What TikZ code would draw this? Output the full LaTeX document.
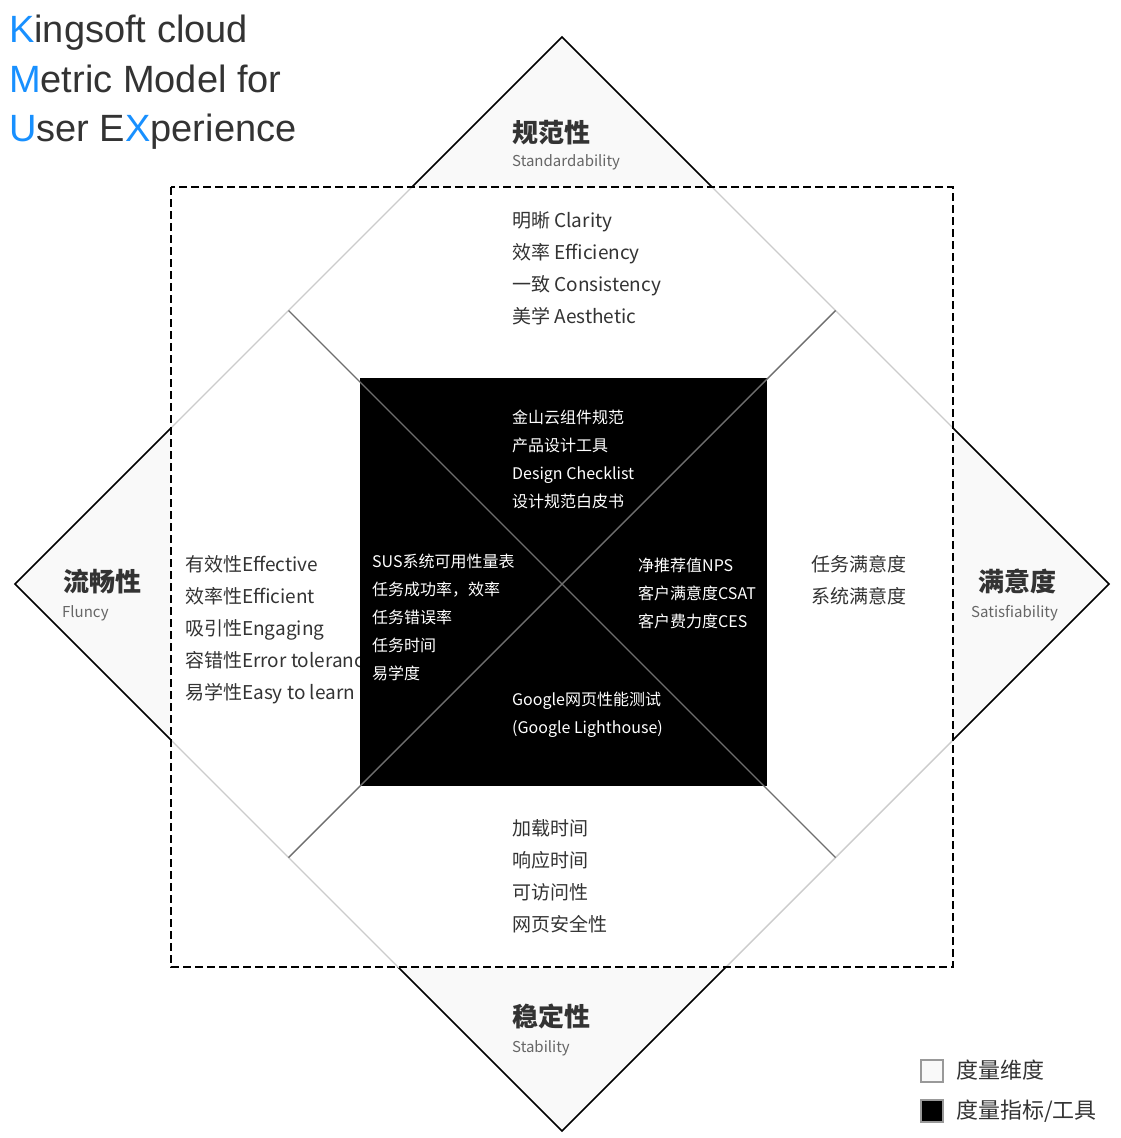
\documentclass[tikz,border=0pt]{standalone}
\usepackage{fontspec}
\setmainfont{Noto Sans CJK SC}
\newfontfamily\titlefont{Liberation Sans}

\definecolor{inkgray}{HTML}{333333}
\definecolor{subgray}{HTML}{666666}
\definecolor{kblue}{HTML}{1890FF}
\definecolor{dimfill}{HTML}{F9F9F9}
\definecolor{edgegray}{HTML}{CCCCCC}
\definecolor{crossgray}{HTML}{6E6E6E}
\definecolor{boxgray}{HTML}{999999}

\tikzset{
  item/.style={anchor=west, inner sep=0pt, text height=13.7pt, text depth=0pt, text=inkgray, font=\fontsize{19}{23}\selectfont},
  tool/.style={item, text=white, text height=11.5pt, font=\fontsize{16}{20}\selectfont},
  dimhead/.style={item, text height=18.7pt, font=\fontsize{26}{30}\selectfont\bfseries},
  dimsub/.style={item, text=subgray, text height=10.8pt, font=\fontsize{15}{18}\selectfont},
  legend/.style={item, text height=15.8pt, font=\fontsize{22}{26}\selectfont},
  heading/.style={anchor=base west, inner sep=0pt, text=inkgray, font=\titlefont\fontsize{38}{44}\selectfont},
}

\begin{document}
\begin{tikzpicture}[x=1pt, y=-1pt]
    \useasboundingbox (0,0) rectangle (1120,1138);
    \coordinate (T) at (562,37);
    \coordinate (R) at (1109,584);
    \coordinate (B) at (562,1131);
    \coordinate (L) at (15,584);
    \coordinate (TL) at (288.5,310.5);
    \coordinate (TR) at (835.5,310.5);
    \coordinate (BL) at (288.5,857.5);
    \coordinate (BR) at (835.5,857.5);

    % outer diamond, white inside the dashed frame
    \filldraw[fill=dimfill, line width=1.6pt, line join=miter] (T) -- (R) -- (B) -- (L) -- cycle;
    \fill[white] (171,187) rectangle (953,967);
    \begin{scope}
        \clip (171,187) rectangle (953,967);
        \draw[edgegray, line width=1.4pt] (T) -- (R) -- (B) -- (L) -- cycle;
    \end{scope}
    \draw[line width=1.6pt, dash pattern=on 8pt off 4pt] (171,187) rectangle (953,967);

    \node[heading] (k1) at (9,42) {\textcolor{kblue}{K}ingsoft cloud};
    \node[heading] (k2) at (9,92) {\textcolor{kblue}{M}etric Model for};
    \node[heading] (k3) at (9,141) {\textcolor{kblue}{U}ser E\textcolor{kblue}{X}perience};

    \node[dimhead] (std) at (512,133) {规范性};
    \node[dimsub] (std-en) at (512,161) {Standardability};
    \node[dimhead] (flu) at (63,582) {流畅性};
    \node[dimsub] (flu-en) at (62,612) {Fluncy};
    \node[dimhead] (sat) at (978,582) {满意度};
    \node[dimsub] (sat-en) at (971,612) {Satisfiability};
    \node[dimhead] (sta) at (512,1017) {稳定性};
    \node[dimsub] (sta-en) at (512,1047) {Stability};

    \foreach \y/\label in {221/明晰 Clarity,253/效率 Efficiency,285/一致 Consistency,317/美学 Aesthetic}
    {
        \node[item] (std-\y) at (512,\y) {\label};
    }
    \foreach \y/\label in {565/有效性Effective,597/效率性Efficient,629/吸引性Engaging,661/容错性Error tolerance,693/易学性Easy to learn}
    {
        \node[item] (flu-\y) at (185,\y) {\label};
    }
    \foreach \y/\label in {565/任务满意度,597/系统满意度}
    {
        \node[item] (sat-\y) at (811,\y) {\label};
    }
    \foreach \y/\label in {829/加载时间,861/响应时间,893/可访问性,925/网页安全性}
    {
        \node[item] (sta-\y) at (512,\y) {\label};
    }

    % tools square
    \fill[black] (360,378) rectangle (767,786);
    \draw[crossgray, line width=1.4pt] (TL) -- (BR);
    \draw[crossgray, line width=1.4pt] (TR) -- (BL);

    \foreach \y/\label in {418/金山云组件规范,446/产品设计工具,474/Design Checklist,502/设计规范白皮书}
    {
        \node[tool] (tool-std-\y) at (512,\y) {\label};
    }
    \foreach \y/\label in {562/SUS系统可用性量表,590/任务成功率，效率,618/任务错误率,646/任务时间,674/易学度}
    {
        \node[tool] (tool-flu-\y) at (372,\y) {\label};
    }
    \foreach \y/\label in {566/净推荐值NPS,594/客户满意度CSAT,622/客户费力度CES}
    {
        \node[tool] (tool-sat-\y) at (638,\y) {\label};
    }
    \foreach \y/\label in {700/Google网页性能测试,728/(Google Lighthouse)}
    {
        \node[tool] (tool-sta-\y) at (512,\y) {\label};
    }

    % legend
    \draw[boxgray, line width=1.6pt, fill=dimfill] (921,1060) rectangle (943,1082);
    \draw[boxgray, line width=1.6pt, fill=black] (921,1100) rectangle (943,1122);
    \node[legend] (leg-dim) at (956,1071) {度量维度};
    \node[legend] (leg-tool) at (956,1111) {度量指标/工具};
\end{tikzpicture}
\end{document}
